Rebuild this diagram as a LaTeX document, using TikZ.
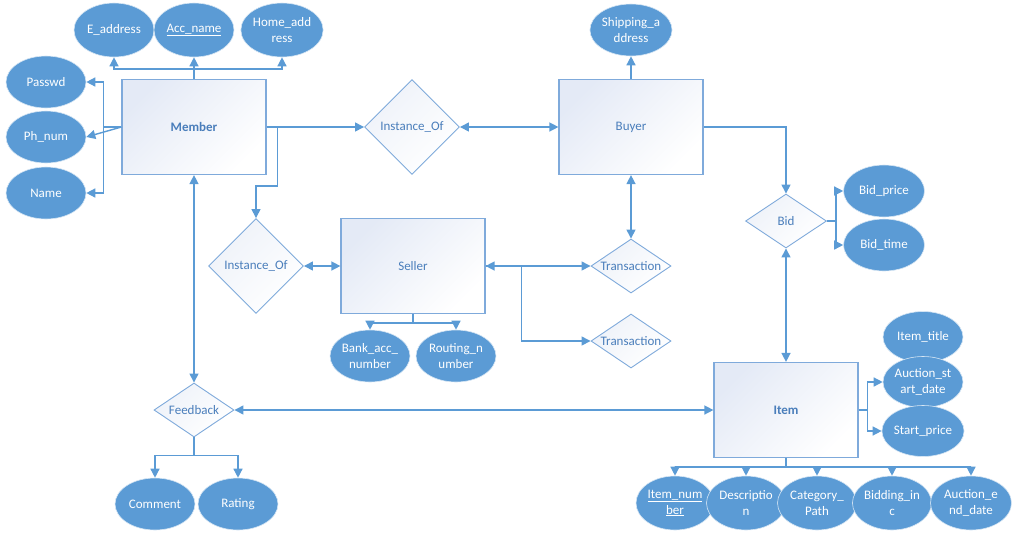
\documentclass[tikz,border=0pt]{standalone}
\usepackage{fontspec}
\setmainfont{Carlito}
\usetikzlibrary{shapes.geometric,arrows.meta}
\definecolor{lineblue}{HTML}{5B9BD5}
\definecolor{ellblue}{HTML}{5B9BD5}
\definecolor{boxedge}{HTML}{7FAADB}
\definecolor{boxtop}{HTML}{E4EAF6}
\definecolor{reltop}{HTML}{EEF2F9}
\definecolor{txtblue}{HTML}{4A7EBB}
\begin{document}
\begin{tikzpicture}[x=1pt,y=-1pt,
  font=\fontsize{13}{16}\selectfont,
  attr/.style={ellipse, fill=ellblue, draw=white!75!ellblue, line width=0.6pt, text=white, minimum width=80, minimum height=52, inner sep=0pt, align=center},
  entity/.style={rectangle, draw=boxedge, line width=1.2pt, top color=boxtop, bottom color=white, shading angle=45, minimum width=144, minimum height=95, text=txtblue, inner sep=0pt},
  rel/.style={diamond, draw=boxedge, line width=0.9pt, top color=reltop, bottom color=white, shading angle=45, text=txtblue, inner sep=0pt},
  bigrel/.style={rel, minimum width=95, minimum height=95, aspect=1},
  smallrel/.style={rel, minimum width=80, minimum height=54, aspect=1.48},
  conn/.style={draw=lineblue, line width=1.4pt, -{Triangle[length=9pt,width=9pt]}},
  conntwo/.style={draw=lineblue, line width=1.4pt, {Triangle[length=9pt,width=9pt]}-{Triangle[length=9pt,width=9pt]}},
  bare/.style={draw=lineblue, line width=1.4pt}
]
\useasboundingbox (0,0) rectangle (1017,539);

% entities
\node[entity, font=\fontsize{13}{16}\selectfont\bfseries] (member) at (194,127) {Member};
\node[entity] (buyer) at (631,127) {Buyer};
\node[entity] (seller) at (413,266) {Seller};
\node[entity, font=\fontsize{13}{16}\selectfont\bfseries] (item) at (786,410) {Item};

% relationships
\node[bigrel] (inst1) at (412,127) {Instance\_Of};
\node[bigrel] (inst2) at (256,266) {Instance\_Of};
\node[smallrel] (trans1) at (631,266) {Transaction};
\node[smallrel] (trans2) at (631,341) {Transaction};
\node[smallrel, minimum width=81] (bid) at (786,221) {Bid};
\node[smallrel] (feedback) at (194,410) {Feedback};

% member attributes
\node[attr, minimum height=54] (eaddr) at (114,30) {E\_address};
\node[attr, minimum height=54] (accname) at (194,30) {\underline{Acc\_name}};
\node[attr, minimum height=54] (homeaddr) at (282,30) {Home\_add\\ress};
\node[attr] (passwd) at (46,82) {Passwd};
\node[attr] (phnum) at (46,137) {Ph\_num};
\node[attr] (name) at (46,193) {Name};

% buyer attribute
\node[attr, minimum width=81] (ship) at (631,30) {Shipping\_a\\ddress};

% bid attributes
\node[attr, minimum width=81] (bidprice) at (884,191) {Bid\_price};
\node[attr, minimum width=81] (bidtime) at (884,245) {Bid\_time};

% seller attributes
\node[attr] (bank) at (370,356) {Bank\_acc\_\\number};
\node[attr] (routing) at (456,356) {Routing\_n\\umber};

% feedback attributes
\node[attr] (comment) at (155,504) {Comment};
\node[attr] (rating) at (238,504) {Rating};

% item attributes
\node[attr, minimum height=51] (itemtitle) at (923,337) {Item\_title};
\node[attr, minimum height=51] (aucstart) at (923,382) {Auction\_st\\art\_date};
\node[attr, minimum height=51] (startprice) at (923,431) {Start\_price};
\node[attr, minimum width=78, minimum height=54] (itemnum) at (675,503) {\underline{Item\_num}\\\underline{ber}};
\node[attr, minimum width=79, minimum height=54] (desc) at (746,503) {Descriptio\\n};
\node[attr, minimum width=79, minimum height=54] (catpath) at (817,503) {Category\_\\Path};
\node[attr, minimum width=79, minimum height=54] (bidinc) at (892,503) {Bidding\_in\\c};
\node[attr, minimum width=81, minimum height=54] (aucend) at (971,503) {Auction\_e\\nd\_date};

% member connectors
\draw[conn] (member.north) -- ++(0,-10) -| (eaddr.south);
\draw[conn] (member.north) -- (accname.south);
\draw[conn] (member.north) -- ++(0,-10) -| (homeaddr.south);
\draw[conn] (member.west) -- ++(-18,0) |- (passwd.east);
\draw[conn] (member.west) -- (phnum.east);
\draw[conn] (member.west) -- ++(-18,0) |- (name.east);
\draw[conn] (member.east) -- (inst1.west);
\draw[conn] (member.east) -- ++(11,0) -- ++(0,59) -| (inst2.north);
\draw[conntwo] (member.south) -- (feedback.north);

% buyer connectors
\draw[conntwo] (inst1.east) -- (buyer.west);
\draw[conn] (buyer.north) -- (ship.south);
\draw[conn] (buyer.east) -| (bid.north);
\draw[conntwo] (buyer.south) -- (trans1.north);

% bid connectors
\draw[conn] (bid.east) -- ++(9,0) |- (bidprice.west);
\draw[conn] (bid.east) -- ++(9,0) |- (bidtime.west);
\draw[conntwo] (bid.south) -- (item.north);

% seller connectors
\draw[conntwo] (inst2.east) -- (seller.west);
\draw[conntwo] (seller.east) -- (trans1.west);
\draw[conn] (seller.east) -- ++(36,0) |- (trans2.west);
\draw[conn] (seller.south) -- ++(0,9) -| (bank.north);
\draw[conn] (seller.south) -- ++(0,9) -| (routing.north);

% feedback connectors
\draw[conntwo] (feedback.east) -- (item.west);
\draw[conn] (feedback.south) -- ++(0,18) -| (comment.north);
\draw[conn] (feedback.south) -- ++(0,18) -| (rating.north);

% item connectors
\draw[conn] (item.east) -- ++(9,0) |- (aucstart.west);
\draw[conn] (item.east) -- ++(9,0) |- (startprice.west);
\draw[conn] (item.south) -- ++(0,9) -| (itemnum.north);
\draw[conn] (item.south) -- ++(0,9) -| (desc.north);
\draw[conn] (item.south) -- ++(0,9) -| (catpath.north);
\draw[conn] (item.south) -- ++(0,9) -| (bidinc.north);
\draw[conn] (item.south) -- ++(0,9) -| (aucend.north);
\end{tikzpicture}
\end{document}
